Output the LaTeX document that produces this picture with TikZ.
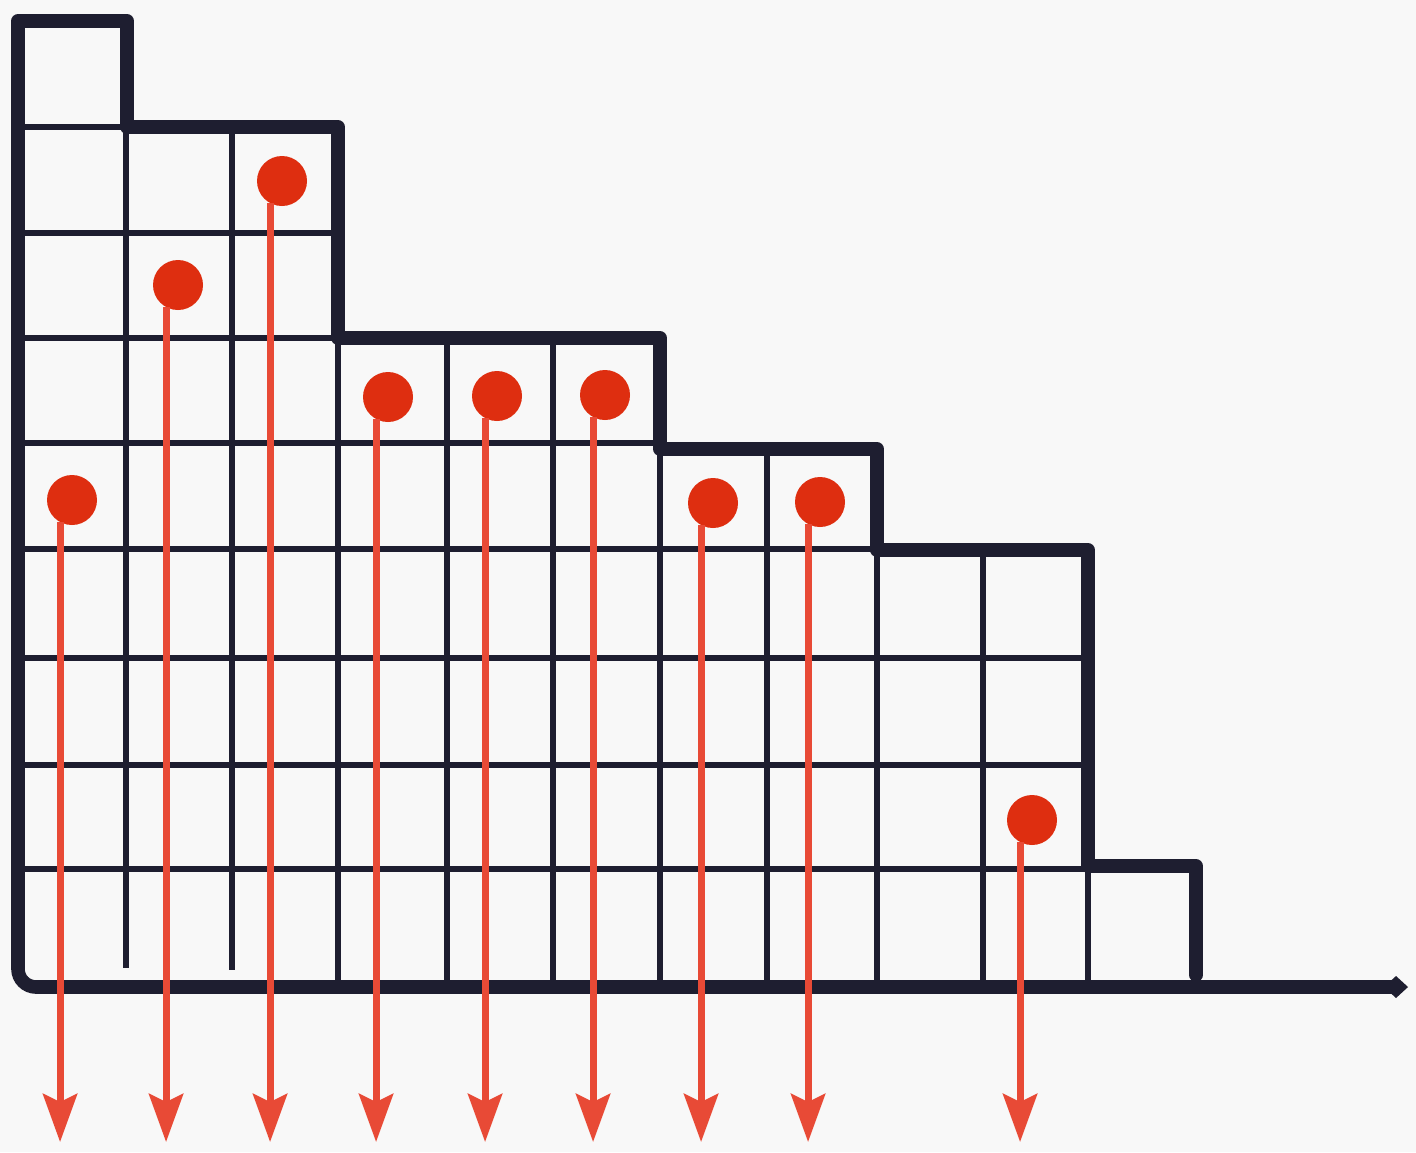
\documentclass[tikz,border=0pt]{standalone}
\usetikzlibrary{arrows.meta}
\definecolor{ink}{RGB}{30,30,48}
\definecolor{dotred}{RGB}{222,46,16}
\definecolor{arrred}{RGB}{232,74,54}
\definecolor{paper}{RGB}{248,248,248}
\begin{document}
\begin{tikzpicture}[x=0.5pt,y=-0.5pt,
  bound/.style={ink, line width=6.8pt, line join=round, line cap=round},
  gridline/.style={ink, line width=2.8pt},
  baseline/.style={ink, line width=6.8pt, line cap=butt, -{Diamond[length=12pt,width=11pt]}},
  dot/.style={circle, fill=dotred, minimum size=25pt, inner sep=0pt},
  drop/.style={arrred, line width=3.5pt, -{Stealth[length=24pt,width=17pt,inset=4pt]}}
]
\fill[paper] (0,0) rectangle (1416,1152);
\useasboundingbox (0,0) rectangle (1416,1152);
% thin horizontal grid lines
\foreach \y/\xe in {127/127, 233/338, 338/338, 443/660, 549/877, 658/1087, 765/1087, 869/1087}
  \draw[gridline] (18,\y) -- (\xe,\y);
% thin vertical grid lines
\foreach \x/\ys/\ye in {126/127/968, 232/127/970, 338/338/982, 447/338/982, 553/338/982, 660/449/982, 767/449/982, 877/550/982, 983/550/982, 1088/866/982}
  \draw[gridline] (\x,\ys) -- (\x,\ye);
% staircase boundary
\draw[bound] (18,960) -- (18,21) -- (127,21) -- (127,127) -- (338,127) -- (338,338)
  -- (660,338) -- (660,449) -- (877,449) -- (877,550) -- (1088,550) -- (1088,866)
  -- (1196,866) -- (1196,975);
% base line
\draw[baseline, rounded corners=9pt] (18,900) -- (18,987) -- (1408,987);
% dots
\foreach \i/\x/\y in {1/72/500, 2/178/285, 3/282/181, 4/388/397, 5/497/396, 6/605/395, 7/713/503, 8/820/502, 9/1032/820}
  \node[dot] (d\i) at (\x,\y) {};
% drop arrows
\foreach \i in {1,...,9}{
  \coordinate (e\i) at (d\i.242 |- 0,1142);
  \draw[drop] (d\i.242) -- (e\i);
}
\end{tikzpicture}
\end{document}
